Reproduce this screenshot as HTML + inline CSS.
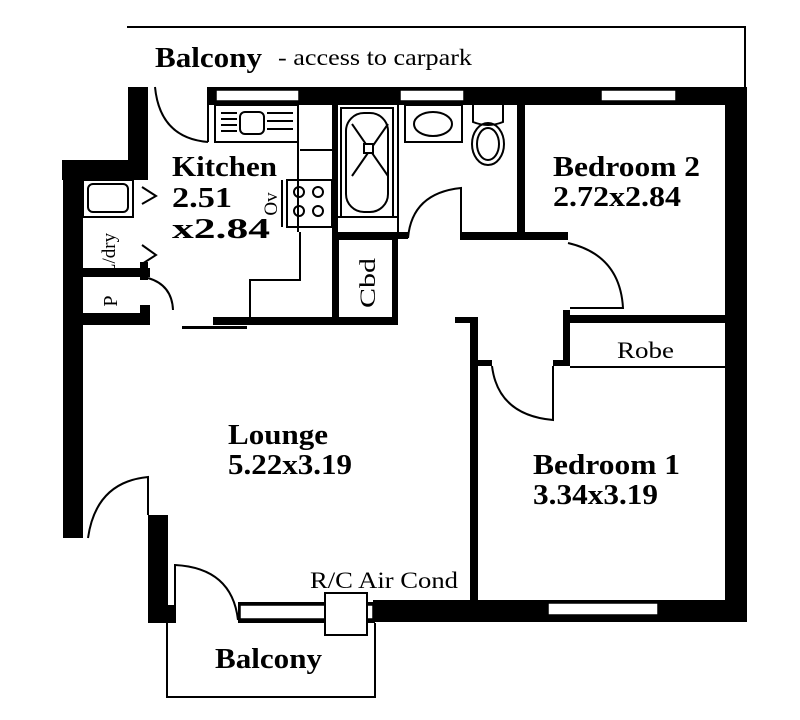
<!DOCTYPE html>
<html><head><meta charset="utf-8"><style>
body{margin:0;background:#fff}
svg{display:block}
text{font-family:"Liberation Serif",serif;fill:#000}
.b{font-weight:bold}
</style></head><body>
<svg width="800" height="720" viewBox="0 0 800 720" xmlns="http://www.w3.org/2000/svg">
<g fill="none" stroke="#000" stroke-width="2">
 <polyline points="127,27 745,27 745,88"/>
</g>
<text x="155" y="67" class="b" font-size="29" textLength="107" lengthAdjust="spacingAndGlyphs">Balcony</text>
<text x="278" y="65" font-size="23" textLength="194" lengthAdjust="spacingAndGlyphs">- access to carpark</text>

<g fill="#000">
 <rect x="208" y="87" width="539" height="18"/>
 <rect x="725" y="87" width="22" height="535"/>
 <rect x="373" y="600" width="374" height="22"/>
 <rect x="128" y="87" width="20" height="93"/>
 <rect x="62" y="160" width="86" height="20"/>
 <rect x="63" y="160" width="20" height="378"/>
 <rect x="148" y="515" width="20" height="108"/>
 <rect x="148" y="605" width="27" height="18"/>
 <rect x="332" y="105" width="6" height="220"/>
 <rect x="332" y="232" width="76" height="7"/>
 <rect x="460" y="232" width="108" height="8"/>
 <rect x="517" y="105" width="8" height="130"/>
 <rect x="393" y="238" width="5" height="86"/>
 <rect x="213" y="317" width="185" height="8"/>
 <rect x="182" y="326" width="65" height="3"/>
 <rect x="455" y="317" width="23" height="6"/>
 <rect x="470" y="317" width="8" height="285"/>
 <rect x="478" y="360" width="14" height="6"/>
 <rect x="563" y="310" width="7" height="56"/>
 <rect x="553" y="360" width="17" height="6"/>
 <rect x="563" y="315" width="165" height="8"/>
 <rect x="82" y="268" width="68" height="9"/>
 <rect x="140" y="262" width="8" height="18"/>
 <rect x="82" y="313" width="68" height="12"/>
 <rect x="140" y="305" width="10" height="20"/>
</g>

<g fill="#fff" stroke="#000" stroke-width="1.5">
 <rect x="216" y="90" width="83" height="11"/>
 <rect x="400" y="90" width="64" height="11"/>
 <rect x="601" y="90" width="75" height="11"/>
 <rect x="548" y="603" width="110" height="12"/>
</g>
<rect x="238" y="602" width="137" height="21" fill="#000"/>
<rect x="240" y="605" width="133" height="14" fill="#fff" stroke="#000" stroke-width="1.5"/>
<rect x="325" y="593" width="42" height="42" fill="#fff" stroke="#000" stroke-width="2"/>

<g fill="none" stroke="#000" stroke-width="2">
 <line x1="570" y1="367" x2="725" y2="367"/>
 <path d="M155,87 Q160,138 208,142"/>
 <line x1="208" y1="87" x2="208" y2="142"/>
 <rect x="215" y="105" width="83" height="37"/>
 <rect x="240" y="112" width="24" height="22" rx="5"/>
 <path d="M221,113h16M221,119h16M221,125h16M221,131h16M267,113h26M267,121h26M267,129h26"/>
 <path d="M298,142 V232 M300,232 V280 H250 V317 M300,150 H332 M300,180 H332"/>
 <rect x="287" y="180" width="45" height="47"/>
 <line x1="282" y1="180" x2="282" y2="227"/>
 <circle cx="299" cy="192" r="5"/><circle cx="318" cy="192" r="5"/>
 <circle cx="299" cy="211" r="5"/><circle cx="318" cy="211" r="5"/>
 <rect x="341" y="108" width="52" height="109"/>
 <rect x="346" y="113" width="42" height="99" rx="18"/>
 <path d="M352,124 L388,176 M388,124 L352,176"/>
 <rect x="364" y="144" width="9" height="9" fill="#fff"/>
 <line x1="338" y1="217" x2="398" y2="217"/>
 <line x1="398" y1="105" x2="398" y2="232"/>
 <rect x="405" y="105" width="57" height="37"/>
 <ellipse cx="433" cy="124" rx="19" ry="12"/>
 <path d="M473,105 V122 Q488,128 503,122 V105"/>
 <ellipse cx="488" cy="144" rx="16" ry="21"/>
 <ellipse cx="488" cy="144" rx="11" ry="16"/>
 <path d="M408,238 Q412,193 461,188 V232"/>
 <rect x="338" y="239" width="55" height="79"/>
 <path d="M568,243 Q620,255 623,308 H570"/>
 <path d="M492,366 Q498,415 553,420 V366"/>
 <path d="M88,538 Q96,482 148,477 V515"/>
 <path d="M175,623 V565 Q232,568 238,620"/>
 <polyline points="167,623 167,697 375,697 375,623"/>
 <rect x="83" y="180" width="50" height="37"/>
 <rect x="88" y="184" width="40" height="28" rx="5"/>
 <path d="M142,187 L156,196 L142,204 M142,245 L156,255 L142,264"/>
 <path d="M148,278 Q172,285 173,310"/>
</g>

<g font-size="29" font-weight="bold">
<text x="172" y="176" textLength="105" lengthAdjust="spacingAndGlyphs">Kitchen</text>
<text x="172" y="207" textLength="60" lengthAdjust="spacingAndGlyphs">2.51</text>
<text x="172" y="238" textLength="98" lengthAdjust="spacingAndGlyphs">x2.84</text>
<text x="553" y="176" textLength="147" lengthAdjust="spacingAndGlyphs">Bedroom 2</text>
<text x="553" y="206" textLength="128" lengthAdjust="spacingAndGlyphs">2.72x2.84</text>
<text x="228" y="444" textLength="100" lengthAdjust="spacingAndGlyphs">Lounge</text>
<text x="228" y="474" textLength="124" lengthAdjust="spacingAndGlyphs">5.22x3.19</text>
<text x="533" y="474" textLength="147" lengthAdjust="spacingAndGlyphs">Bedroom 1</text>
<text x="533" y="504" textLength="125" lengthAdjust="spacingAndGlyphs">3.34x3.19</text>
<text x="215" y="668" textLength="107" lengthAdjust="spacingAndGlyphs">Balcony</text>
</g>
<text transform="translate(277,204) rotate(-90)" font-size="19" text-anchor="middle">Ov</text>
<text transform="translate(375,283) rotate(-90)" font-size="22" text-anchor="middle" textLength="50" lengthAdjust="spacingAndGlyphs">Cbd</text>
<text transform="translate(115,254) rotate(-90)" font-size="19" text-anchor="middle">L/dry</text>
<text transform="translate(117,301) rotate(-90)" font-size="20" text-anchor="middle">P</text>
<text x="617" y="358" font-size="23" textLength="57" lengthAdjust="spacingAndGlyphs">Robe</text>
<text x="310" y="588" font-size="23" textLength="148" lengthAdjust="spacingAndGlyphs">R/C Air Cond</text>
</svg>
</body></html>
